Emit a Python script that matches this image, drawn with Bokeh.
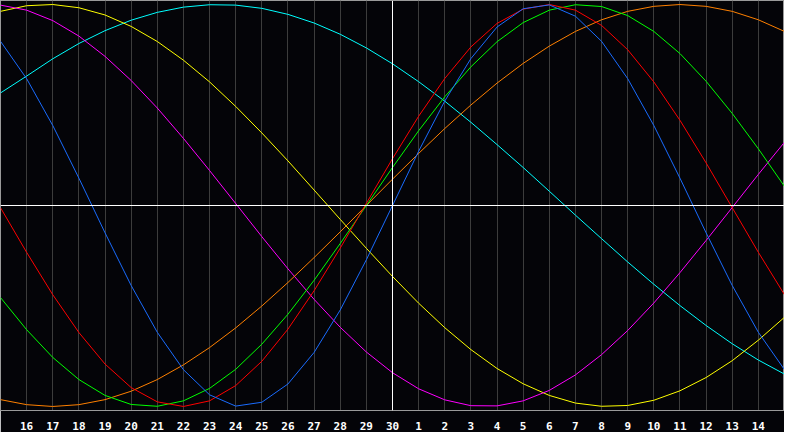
from bokeh.plotting import figure
from bokeh.models import Range1d, FixedTicker, Span
from bokeh.embed import file_html
from bokeh.resources import INLINE

# day index 0 = the 15th, 30 = the 15th of the next month
day_index = list(range(0, 31))
tick_positions = list(range(1, 30))
tick_labels = ["16", "17", "18", "19", "20", "21", "22", "23", "24", "25", "26", "27", "28", "29", "30",
               "1", "2", "3", "4", "5", "6", "7", "8", "9", "10", "11", "12", "13", "14"]

# cycle values (-1 .. 1), one per day
physical = [0.817, 0.631, 0.398, 0.136, -0.136, -0.398, -0.631, -0.817, -0.942, -0.998, -0.979,
            -0.888, -0.731, -0.520, -0.270, 0.0, 0.270, 0.520, 0.731, 0.888, 0.979, 0.998,
            0.942, 0.817, 0.631, 0.398, 0.136, -0.136, -0.398, -0.631, -0.817]
emotional = [-0.011, -0.233, -0.444, -0.632, -0.789, -0.906, -0.977, -1.0, -0.972, -0.896, -0.775,
             -0.615, -0.424, -0.212, 0.011, 0.233, 0.444, 0.632, 0.789, 0.906, 0.977, 1.0,
             0.972, 0.896, 0.775, 0.615, 0.424, 0.212, -0.011, -0.233, -0.444]
intellectual = [-0.458, -0.618, -0.756, -0.866, -0.945, -0.990, -0.999, -0.972, -0.910, -0.815, -0.690,
                -0.541, -0.372, -0.189, 0.0, 0.189, 0.372, 0.541, 0.690, 0.815, 0.910, 0.972,
                0.999, 0.990, 0.945, 0.866, 0.756, 0.618, 0.458, 0.282, 0.095]
intuitive = [0.997, 0.972, 0.920, 0.843, 0.742, 0.622, 0.485, 0.334, 0.174, 0.010, -0.155,
             -0.315, -0.467, -0.606, -0.729, -0.832, -0.912, -0.967, -0.996, -0.997, -0.972, -0.920,
             -0.843, -0.742, -0.622, -0.485, -0.334, -0.174, -0.010, 0.155, 0.315]
aesthetic = [0.966, 0.994, 1.0, 0.984, 0.948, 0.891, 0.816, 0.723, 0.615, 0.493, 0.361,
             0.222, 0.077, -0.069, -0.213, -0.353, -0.486, -0.608, -0.717, -0.811, -0.887, -0.945,
             -0.983, -0.999, -0.995, -0.969, -0.922, -0.856, -0.772, -0.670, -0.556]
awareness = [-0.966, -0.991, -1.0, -0.991, -0.966, -0.924, -0.866, -0.793, -0.707, -0.609, -0.5,
             -0.383, -0.259, -0.131, 0.0, 0.131, 0.259, 0.383, 0.5, 0.609, 0.707, 0.793,
             0.866, 0.924, 0.966, 0.991, 1.0, 0.991, 0.966, 0.924, 0.866]
spiritual = [0.560, 0.644, 0.730, 0.806, 0.870, 0.922, 0.961, 0.987, 0.999, 0.997, 0.981,
             0.951, 0.908, 0.852, 0.784, 0.705, 0.616, 0.519, 0.414, 0.303, 0.189, 0.071,
             -0.048, -0.165, -0.281, -0.392, -0.498, -0.597, -0.688, -0.769, -0.839]

series = [
    (spiritual, "#00ffff"),
    (aesthetic, "#ffff00"),
    (intuitive, "#ff00ff"),
    (awareness, "#ff8000"),
    (intellectual, "#00ff00"),
    (emotional, "#ff0000"),
    (physical, "#1a6cff"),
]

bg = "#040408"

p = figure(width=784, height=432, output_backend="svg", toolbar_location=None,
           x_range=Range1d(0, 30), y_range=Range1d(-1.02, 1.02))
p.min_border = 0
p.background_fill_color = bg
p.border_fill_color = bg
p.outline_line_color = "#9a9a9a"

p.yaxis.visible = False
p.ygrid.visible = False

p.xaxis.ticker = FixedTicker(ticks=tick_positions)
p.xaxis.major_label_overrides = {t: lab for t, lab in zip(tick_positions, tick_labels)}
p.xaxis.major_tick_line_color = None
p.xaxis.minor_tick_line_color = None
p.xaxis.axis_line_color = "#9a9a9a"
p.xaxis.major_label_text_color = "white"
p.xaxis.major_label_text_font = "DejaVu Sans Mono"
p.xaxis.major_label_text_font_style = "bold"
p.xaxis.major_label_text_font_size = "11px"
p.xaxis.major_label_standoff = 5

p.xgrid.grid_line_color = "#3c3c3c"
p.xgrid.grid_line_width = 1

p.add_layout(Span(location=15, dimension="height", line_color="white", line_width=1))
p.add_layout(Span(location=0, dimension="width", line_color="white", line_width=1))

for vals, col in series:
    p.line(day_index, vals, line_color=col, line_width=1)

open("out.html", "w").write(file_html(p, INLINE))
